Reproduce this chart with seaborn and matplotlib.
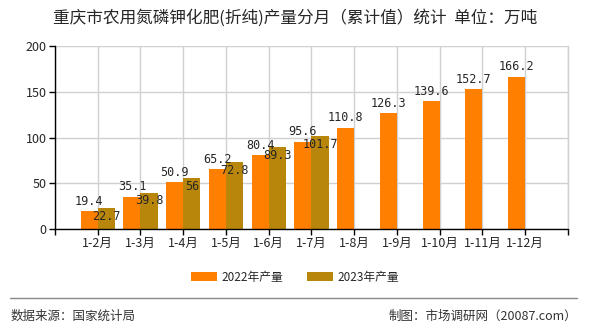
import matplotlib
matplotlib.use("Agg")
import matplotlib.pyplot as plt
import numpy as np
import pandas as pd
import seaborn as sns
from matplotlib.patches import Patch
from matplotlib.lines import Line2D

months = ["1-2月", "1-3月", "1-4月", "1-5月", "1-6月", "1-7月",
          "1-8月", "1-9月", "1-10月", "1-11月", "1-12月"]
output_2022 = [19.4, 35.1, 50.9, 65.2, 80.4, 95.6, 110.8, 126.3, 139.6, 152.7, 166.2]
output_2023 = [22.7, 39.8, 56, 72.8, 89.3, 101.7]
series_names = ["2022年产量", "2023年产量"]
colors = ["#FF8000", "#B8860B"]
y_ticks = [0, 50, 100, 150, 200]

sns.set_theme(style="white")
plt.rcParams["font.family"] = ["Noto Sans CJK SC", "DejaVu Sans"]

rows = []
for m, v in zip(months, output_2022):
    rows.append({"month": m, "value": v, "series": series_names[0]})
for i, m in enumerate(months):
    v = output_2023[i] if i < len(output_2023) else np.nan
    rows.append({"month": m, "value": v, "series": series_names[1]})
df = pd.DataFrame(rows)

fig = plt.figure(figsize=(5.9, 3.3), dpi=100)
ax = fig.add_axes([0.0932, 0.306, 0.8695, 0.5546])

sns.barplot(data=df, x="month", y="value", hue="series", order=months,
            hue_order=series_names, palette=colors, width=0.8, dodge=True,
            errorbar=None, saturation=1, ax=ax, legend=False, zorder=3,
            linewidth=0, edgecolor="none")

ax.set_xlim(-1, len(months))
ax.set_ylim(0, 200)
ax.set_xticks(range(-1, len(months) + 1))
ax.set_xticklabels([""] + months + [""], fontsize=9)
ax.set_yticks(y_ticks)
ax.set_yticklabels([str(t) for t in y_ticks], fontsize=9)
ax.set_xlabel("")
ax.set_ylabel("")
ax.grid(True, color="#d0d0d0", linewidth=1, zorder=0)
ax.spines["top"].set_visible(False)
ax.spines["right"].set_color("#d0d0d0")
ax.spines["right"].set_linewidth(1)
for s in ["left", "bottom"]:
    ax.spines[s].set_color("black")
    ax.spines[s].set_linewidth(1)
    ax.spines[s].set_zorder(4)
ax.tick_params(axis="x", length=4, width=1, color="black", pad=2, direction="out", bottom=True)
ax.tick_params(axis="y", length=4, width=1, color="black", pad=2, direction="out", left=True)

# value labels: 2022 above its bar, 2023 just under its bar top
for i, v in enumerate(output_2022):
    ax.text(i - 0.2, v + 4, f"{v:g}", ha="center", va="bottom", fontsize=8.5,
            family=["DejaVu Sans Mono"], zorder=5)
for i, v in enumerate(output_2023):
    ax.text(i + 0.2, v - 2, f"{v:g}", ha="center", va="top", fontsize=8.5,
            family=["DejaVu Sans Mono"], zorder=5)

fig.text(0.5, 0.945, "重庆市农用氮磷钾化肥(折纯)产量分月（累计值）统计  单位：万吨",
         ha="center", va="center", fontsize=12, fontweight="medium")

handles = [Patch(facecolor=c, edgecolor="none") for c in colors]
fig.legend(handles, series_names, loc="center", bbox_to_anchor=(0.5, 0.16),
           ncol=2, frameon=False, fontsize=8.5, handlelength=2.2, handleheight=0.8,
           columnspacing=2.0, handletextpad=0.4)

fig.add_artist(Line2D([0.017, 0.978], [0.097, 0.097], color="#888888", linewidth=1))
fig.text(0.017, 0.042, "数据来源：国家统计局", ha="left", va="center", fontsize=9, color="#333333")
fig.text(0.978, 0.042, "制图：市场调研网（20087.com）", ha="right", va="center", fontsize=9, color="#333333")

fig.savefig("out.png", dpi=100)
